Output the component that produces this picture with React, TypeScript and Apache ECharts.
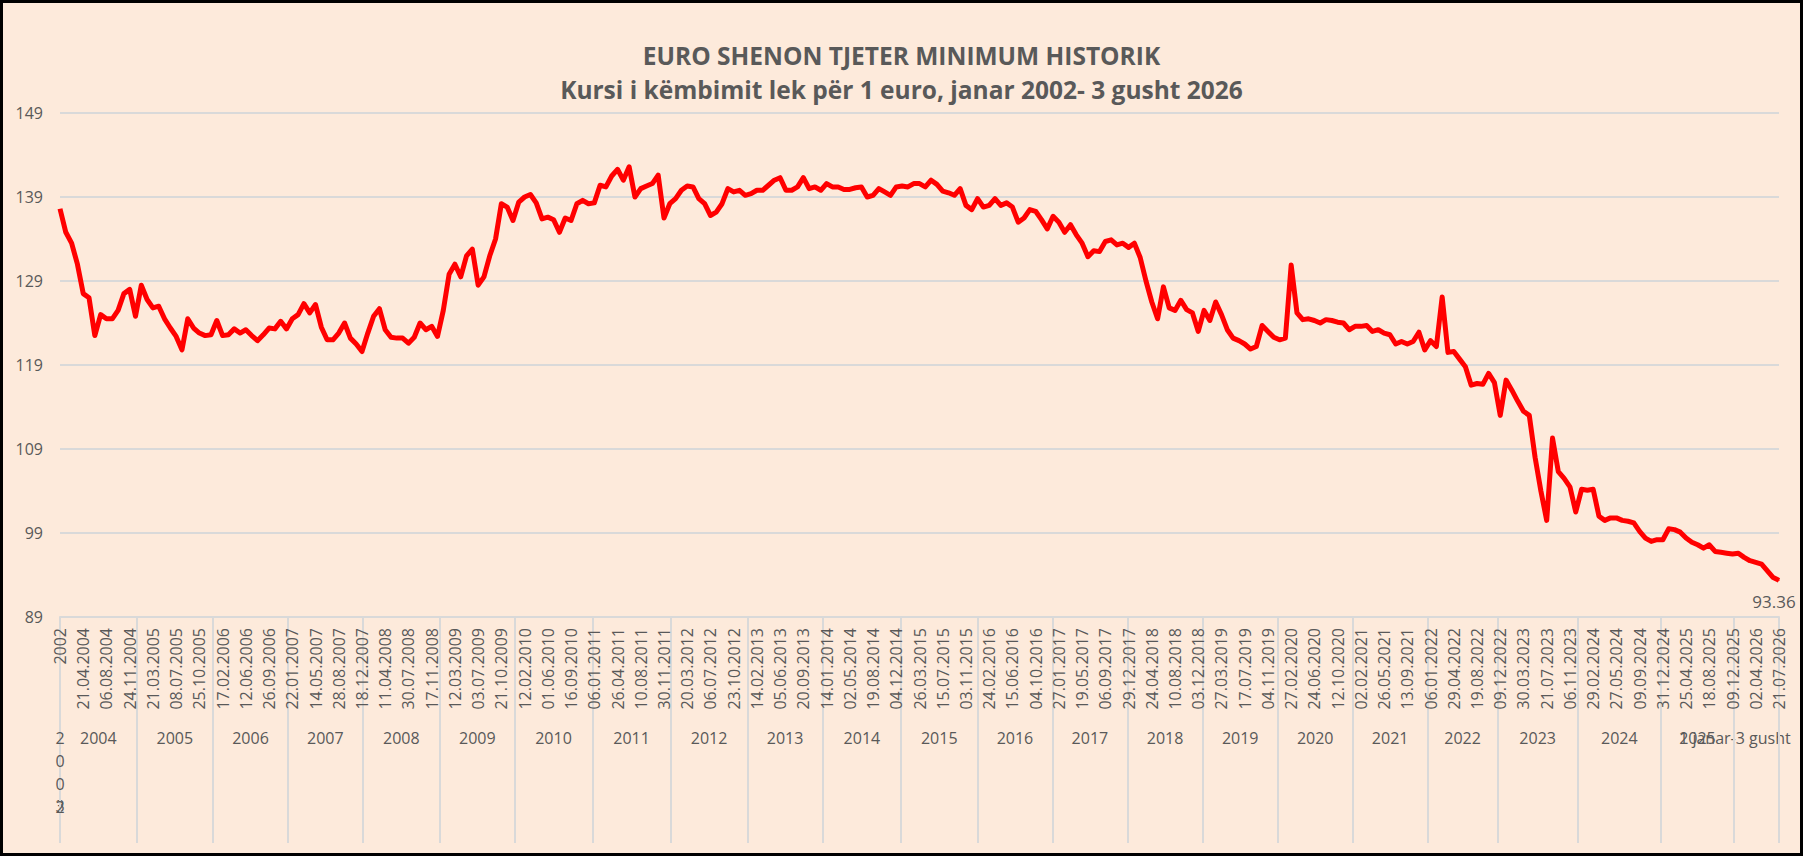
import { useEffect, useRef } from 'react';
import * as echarts from 'echarts';

// tick labels of the date level (one every 4 data points)
const dateLabels = [
  '2002', '21.04.2004', '06.08.2004', '24.11.2004', '21.03.2005', '08.07.2005', '25.10.2005',
  '17.02.2006', '12.06.2006', '26.09.2006', '22.01.2007', '14.05.2007', '28.08.2007', '18.12.2007',
  '11.04.2008', '30.07.2008', '17.11.2008', '12.03.2009', '03.07.2009', '21.10.2009', '12.02.2010',
  '01.06.2010', '16.09.2010', '06.01.2011', '26.04.2011', '10.08.2011', '30.11.2011', '20.03.2012',
  '06.07.2012', '23.10.2012', '14.02.2013', '05.06.2013', '20.09.2013', '14.01.2014', '02.05.2014',
  '19.08.2014', '04.12.2014', '26.03.2015', '15.07.2015', '03.11.2015', '24.02.2016', '15.06.2016',
  '04.10.2016', '27.01.2017', '19.05.2017', '06.09.2017', '29.12.2017', '24.04.2018', '10.08.2018',
  '03.12.2018', '27.03.2019', '17.07.2019', '04.11.2019', '27.02.2020', '24.06.2020', '12.10.2020',
  '02.02.2021', '26.05.2021', '13.09.2021', '06.01.2022', '29.04.2022', '19.08.2022', '09.12.2022',
  '30.03.2023', '21.07.2023', '06.11.2023', '29.02.2024', '27.05.2024', '09.09.2024', '31.12.2024',
  '25.04.2025', '18.08.2025', '09.12.2025', '02.04.2026', '21.07.2026',
];
const STEP = 4; // data points per date label

// year level of the axis: names and boundaries (in data-index units)
const yearNames = [
  '2002', '2004', '2005', '2006', '2007', '2008', '2009', '2010', '2011', '2012', '2013', '2014',
  '2015', '2016', '2017', '2018', '2019', '2020', '2021', '2022', '2023', '2024', '2025', '1 janar-3 gusht',
];
const yearBounds = [
  0, 13.2, 26.36, 39.24, 52.12, 65.44, 78.28, 91.68, 105.16, 118.36, 131.36, 144.8, 158,
  170.88, 183.8, 196.76, 209.68, 222.6, 235.48, 247.56, 261.32, 275.68, 288.24, 296,
];

// lek per 1 euro
const r2002_04 = [137.6, 134.8, 133.5, 131, 127.5, 127, 122.5, 125, 124.5, 124.5, 125.5, 127.5, 128, 124.8];
const r2005 = [128.5, 126.8, 125.8, 126, 124.5, 123.4, 122.4, 120.8, 124.5, 123.4, 122.8, 122.5, 122.6];
const r2006 = [124.3, 122.5, 122.6, 123.3, 122.8, 123.2, 122.5, 121.9, 122.6, 123.4, 123.3, 124.2, 123.3];
const r2007 = [124.5, 125, 126.3, 125.2, 126.2, 123.5, 122, 122, 122.8, 124, 122.2, 121.5, 120.6];
const r2008 = [122.8, 124.8, 125.7, 123.2, 122.3, 122.2, 122.2, 121.6, 122.3, 124, 123.2, 123.6, 122.4];
const r2009 = [125.5, 129.8, 131, 129.5, 132, 132.8, 128.5, 129.5, 132, 134, 138.2, 137.8, 136.2];
const r2010 = [138.4, 139, 139.3, 138.3, 136.4, 136.6, 136.3, 134.8, 136.5, 136.2, 138.2, 138.6, 138.2];
const r2011 = [138.3, 140.4, 140.2, 141.5, 142.3, 141, 142.6, 139, 140, 140.3, 140.6, 141.6, 136.5, 138.2];
const r2012 = [138.8, 139.8, 140.3, 140.2, 138.8, 138.2, 136.8, 137.2, 138.2, 140, 139.6, 139.8, 139.2];
const r2013 = [139.4, 139.8, 139.8, 140.4, 141, 141.3, 139.8, 139.8, 140.2, 141.3, 140, 140.2, 139.8];
const r2014 = [140.6, 140.2, 140.2, 139.9, 139.9, 140.1, 140.2, 139, 139.2, 140, 139.6, 139.2, 140.2];
const r2015 = [140.3, 140.2, 140.6, 140.6, 140.2, 141, 140.5, 139.7, 139.5, 139.2, 140, 138, 137.5, 138.8];
const r2016 = [137.8, 138, 138.8, 138, 138.3, 137.8, 136, 136.5, 137.5, 137.3, 136.3, 135.2];
const r2017 = [136.7, 136, 134.8, 135.7, 134.5, 133.5, 131.9, 132.6, 132.5, 133.7, 133.9, 133.3, 133.5];
const r2018 = [133, 133.5, 131.8, 129, 126.5, 124.5, 128.3, 125.8, 125.5, 126.7, 125.6, 125.2, 123];
const r2019 = [125.5, 124.3, 126.5, 125, 123.2, 122.2, 121.9, 121.5, 120.9, 121.2, 123.7, 123, 122.3];
const r2020 = [122, 122.2, 130.9, 125.2, 124.4, 124.5, 124.3, 124, 124.4, 124.3, 124.1, 124, 123.2];
const r2021 = [123.6, 123.6, 123.7, 123, 123.2, 122.8, 122.6, 121.5, 121.8, 121.5, 121.8, 122.9, 120.8];
const r2022 = [121.9, 121.2, 127.1, 120.5, 120.6, 119.7, 118.8, 116.6, 116.8, 116.7, 118, 116.9];
const r2023 = [113, 117.2, 116, 114.7, 113.5, 113, 108, 104, 100.5, 110.3, 106.3, 105.5, 104.5, 101.5];
const r2024 = [104.2, 104.1, 104.2, 101, 100.5, 100.8, 100.8, 100.5, 100.4, 100.2, 99.2, 98.4, 98, 98.2];
const r2025 = [98.2, 99.5, 99.4, 99.1, 98.4, 97.9, 97.6, 97.2, 97.6, 96.8, 96.7, 96.6, 96.5];
const r2026 = [96.6, 96.1, 95.7, 95.5, 95.3, 94.5, 93.7, 93.36];

const rates = [
  ...r2002_04, ...r2005, ...r2006, ...r2007, ...r2008, ...r2009, ...r2010, ...r2011, ...r2012,
  ...r2013, ...r2014, ...r2015, ...r2016, ...r2017, ...r2018, ...r2019, ...r2020, ...r2021,
  ...r2022, ...r2023, ...r2024, ...r2025, ...r2026,
];

const FONT = "'Open Sans', 'Noto Sans', sans-serif";
const GREY_TEXT = '#595959';
const GRID_LINE = '#D9D9D9';
const YEAR_MARGIN = 109;
const YEAR_LINE_H = 23;

export default function App() {
  const chartRef = useRef<HTMLDivElement>(null);

  useEffect(() => {
    if (!chartRef.current) return;
    const chart = echarts.init(chartRef.current, undefined, { renderer: 'svg' });

    const categories = rates.map((_, i) =>
      i % STEP === 0 ? dateLabels[i / STEP] : `${dateLabels[Math.floor(i / STEP)]}#${i % STEP}`
    );
    const last = rates.length - 1;

    // year label positions: middle of each group, the "2002" stub sits on the axis start
    const yearCenters = [0];
    for (let g = 0; g < yearBounds.length - 1; g++) {
      yearCenters.push((yearBounds[g] + yearBounds[g + 1]) / 2);
    }
    // the last (partial) group label is drawn separately, pushed left like Excel does
    const lastYearName = yearNames[yearNames.length - 1];
    const lastYearPos = 288.4;
    yearCenters.pop();

    chart.setOption({
      animation: false,
      backgroundColor: '#FDEADB',
      textStyle: { fontFamily: FONT },
      title: {
        text: 'EURO SHENON TJETER MINIMUM HISTORIK\nKursi i këmbimit lek për 1 euro, janar 2002- 3 gusht 2026',
        left: 'center',
        top: 33,
        textStyle: {
          fontFamily: FONT,
          fontSize: 24.5,
          fontWeight: 'bold',
          color: GREY_TEXT,
          lineHeight: 34,
        },
      },
      grid: { left: 60, right: 24, top: 113, bottom: 239, outerBoundsMode: 'none' },
      xAxis: [
        {
          type: 'category',
          data: categories,
          boundaryGap: false,
          axisLine: { lineStyle: { color: GRID_LINE, width: 2 } },
          axisTick: { show: false },
          axisLabel: {
            interval: STEP - 1,
            rotate: 90,
            margin: 11,
            fontSize: 16,
            color: GREY_TEXT,
            fontFamily: FONT,
          },
          splitLine: { show: false },
        },
        {
          type: 'value',
          position: 'bottom',
          min: 0,
          max: last,
          axisLine: { show: false },
          splitLine: { show: false },
          axisTick: {
            show: true,
            inside: false,
            length: 226,
            customValues: yearBounds,
            lineStyle: { color: GRID_LINE, width: 2 },
          },
          axisLabel: {
            customValues: yearCenters,
            hideOverlap: false,
            margin: YEAR_MARGIN,
            fontSize: 16,
            lineHeight: YEAR_LINE_H,
            color: GREY_TEXT,
            fontFamily: FONT,
            formatter: (v: number) => {
              const name = yearNames[yearCenters.indexOf(v)] ?? '';
              return name === '2002' ? name.split('').join('\n') : name;
            },
          },
        },
      ],
      yAxis: {
        type: 'value',
        min: 89,
        max: 149,
        interval: 10,
        axisLine: { show: false },
        axisTick: { show: false },
        axisLabel: { fontSize: 16, color: GREY_TEXT, margin: 17, fontFamily: FONT },
        splitLine: { lineStyle: { color: GRID_LINE, width: 2 } },
      },
      series: [
        {
          type: 'line',
          xAxisIndex: 0,
          symbol: 'none',
          showSymbol: true,
          showAllSymbol: true,
          clip: false,
          lineStyle: { color: '#FF0000', width: 5, join: 'round' },
          itemStyle: { color: '#FF0000' },
          data: rates.map((v, i) =>
            i === last
              ? {
                  value: v,
                  symbol: 'circle',
                  symbolSize: 1,
                  label: {
                    show: true,
                    position: 'bottom',
                    distance: 12,
                    offset: [-5, 0],
                    formatter: String(v),
                    fontSize: 17,
                    color: GREY_TEXT,
                    fontFamily: FONT,
                  },
                }
              : v
          ),
        },
      ],
    });

    // extra texts placed through the axes' own scales
    const [axisX0] = chart.convertToPixel({ xAxisIndex: 1, yAxisIndex: 0 }, [0, 89]) as number[];
    const [lastX, axisY] = chart.convertToPixel({ xAxisIndex: 1, yAxisIndex: 0 }, [lastYearPos, 89]) as number[];
    const rowY = axisY + YEAR_MARGIN + YEAR_LINE_H / 2;
    const textStyle = { fontSize: 16, fontFamily: FONT, fill: GREY_TEXT, align: 'center', verticalAlign: 'middle' };
    chart.setOption({
      graphic: [
        { type: 'text', x: lastX, y: rowY, silent: true, style: { ...textStyle, text: lastYearName } },
        // Excel overprints "2003" on the squeezed first group
        { type: 'text', x: axisX0, y: rowY + 3 * YEAR_LINE_H - 1, silent: true, style: { ...textStyle, text: '3' } },
      ],
    });

    return () => {
      chart.dispose();
    };
  }, []);

  return (
    <div style={{ position: 'absolute', left: 0, top: 0, width: 1803, height: 856 }}>
      <div ref={chartRef} style={{ width: 1803, height: 856 }} />
      <div
        style={{
          position: 'absolute',
          inset: 0,
          border: '3px solid #000',
          boxSizing: 'border-box',
          pointerEvents: 'none',
        }}
      />
    </div>
  );
}
